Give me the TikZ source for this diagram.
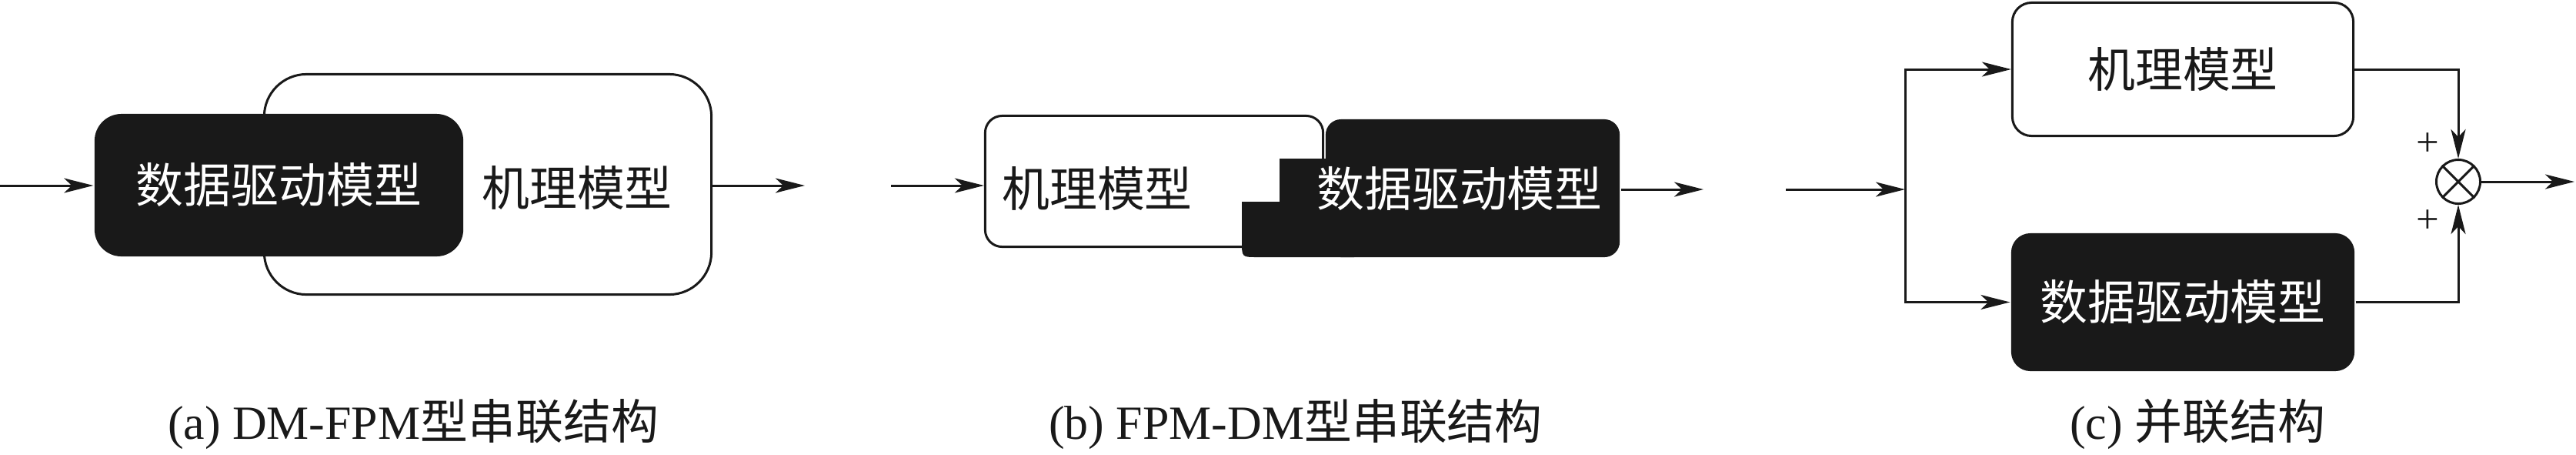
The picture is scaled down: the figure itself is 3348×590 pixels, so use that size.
\documentclass[tikz,border=0pt]{standalone}
\usepackage{fontspec}
\setmainfont{Liberation Serif}
\newfontfamily\cjk{Noto Sans CJK SC}
\usetikzlibrary{arrows.meta}
\definecolor{ink}{gray}{0.1}

\begin{document}
\begin{tikzpicture}[x=0.01cm, y=-0.01cm, line width=0.03cm, ink,
    font=\fontsize{17.6pt}{20pt}\selectfont,
    arr/.style={-{Stealth[length=0.38cm, width=0.19cm, inset=0.1cm]}},
    fpmbox/.style={draw, fill=white, inner sep=0pt},
    dmbox/.style={fill=ink, text=white, inner sep=0pt},
    cjktext/.style={font=\fontsize{17.6pt}{20pt}\selectfont\cjk},
    plus/.style={font=\fontsize{15pt}{16pt}\selectfont}]
    \useasboundingbox (0, 0) rectangle (3348, 590);

    \node[fpmbox, rounded corners=0.55cm, minimum width=5.81cm, minimum height=2.86cm] (fpmA) at (634, 239.5) {};
    \node[dmbox, rounded corners=0.35cm, minimum width=4.79cm, minimum height=1.85cm, cjktext] (dmA) at (362.5, 240.5) {数据驱动模型};
    \node[cjktext] (fpmAtext) at (750, 244) {机理模型};
    \coordinate (inA) at (0, 241);
    \coordinate (outA) at (1046, 241);
    \draw[arr] (inA) -- (inA -| dmA.west);
    \draw[arr] (outA -| fpmA.east) -- (outA);

    \node[fpmbox, rounded corners=0.22cm, minimum width=4.39cm, minimum height=1.70cm] (fpmB) at (1500, 235.5) {};
    \node[dmbox, rounded corners=0.2cm, minimum width=3.82cm, minimum height=1.79cm] (dmB) at (1914, 244.5) {};
    \fill (1663, 206) -- (1760, 206) -- (1760, 334) -- (1634, 334)
        .. controls (1614, 334) .. (1614, 314) -- (1614, 262) -- (1663, 262) -- cycle;
    \node[cjktext] (fpmBtext) at (1426, 245) {机理模型};
    \node[cjktext, text=white] (dmBtext) at (1897, 245) {数据驱动模型};
    \coordinate (inB) at (1158, 241);
    \coordinate (outB) at (2214, 246);
    \draw[arr] (inB) -- (inB -| fpmB.west);
    \draw[arr] (outB -| dmB.east) -- (outB);

    \node[fpmbox, rounded corners=0.25cm, minimum width=4.43cm, minimum height=1.73cm, cjktext] (fpmC) at (2837, 90) {机理模型};
    \node[dmbox, rounded corners=0.25cm, minimum width=4.46cm, minimum height=1.79cm, cjktext] (dmC) at (2837, 392.5) {数据驱动模型};
    \node[draw, circle, minimum size=0.57cm, inner sep=0pt] (sumC) at (3195, 236) {};
    \draw (sumC.north west) -- (sumC.south east) (sumC.north east) -- (sumC.south west);
    \coordinate (inC) at (2321, 246);
    \coordinate (jC) at (2476, 246);
    \coordinate (outC) at (3346, 236);
    \draw[arr] (inC) -- (jC);
    \draw[arr] (jC) |- (fpmC);
    \draw[arr] (jC) |- (dmC);
    \draw[arr] (fpmC) -| (sumC);
    \draw[arr] (dmC) -| (sumC);
    \draw[arr] (sumC) -- (outC);
    \node[plus] (plusT) at (3155, 188) {+};
    \node[plus] (plusB) at (3155, 288) {+};

    \node (capA) at (537, 551) {(a) DM-FPM{\cjk 型串联结构}};
    \node (capB) at (1684, 551) {(b) FPM-DM{\cjk 型串联结构}};
    \node (capC) at (2856, 551) {(c) {\cjk 并联结构}};
\end{tikzpicture}
\end{document}
